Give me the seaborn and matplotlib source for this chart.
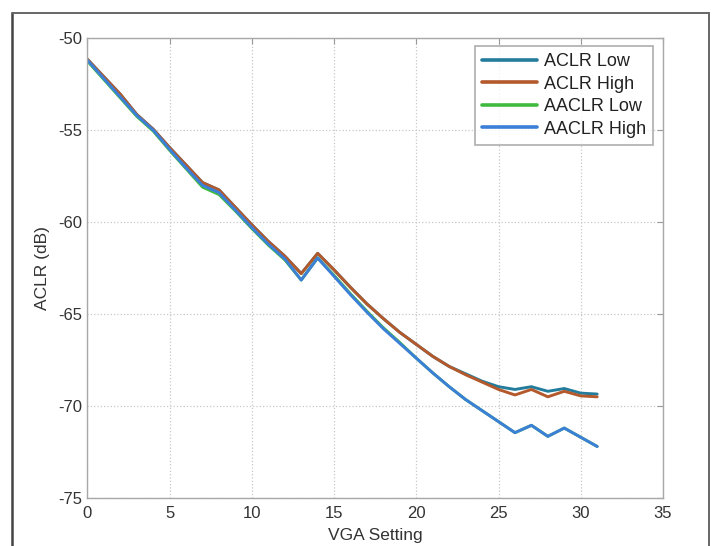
import numpy as np
import pandas as pd
import matplotlib
matplotlib.use("Agg")
import matplotlib.pyplot as plt
import seaborn as sns

sns.set_style("white")
plt.rcParams['font.family'] = ['Liberation Sans', 'DejaVu Sans']
plt.rcParams['axes.unicode_minus'] = False

# VGA setting sweep
vga = list(range(32))

aclr_low = [-51.15, -52.1, -53.05, -54.15, -54.95, -55.95, -56.9, -57.85, -58.25, -59.2,
            -60.15, -61.05, -61.85, -62.8, -61.7, -62.6, -63.55, -64.45, -65.25, -66.0,
            -66.65, -67.3, -67.85, -68.25, -68.65, -68.95, -69.1, -68.95, -69.2, -69.05,
            -69.3, -69.35]
aclr_high = [-51.15, -52.1, -53.05, -54.15, -54.95, -55.95, -56.9, -57.85, -58.25, -59.2,
             -60.15, -61.05, -61.85, -62.8, -61.7, -62.6, -63.55, -64.45, -65.25, -66.0,
             -66.65, -67.3, -67.85, -68.3, -68.7, -69.1, -69.4, -69.1, -69.5, -69.2,
             -69.45, -69.5]
aaclr_low = [-51.25, -52.25, -53.25, -54.25, -55.05, -56.1, -57.1, -58.1, -58.5, -59.4,
             -60.35, -61.25, -62.05, -63.15, -61.95, -62.9, -63.9, -64.85, -65.75, -66.55,
             -67.4, -68.2, -68.95, -69.65, -70.25, -70.85, -71.45, -71.05, -71.65, -71.2,
             -71.7, -72.2]
aaclr_high = [-51.2, -52.2, -53.2, -54.2, -55.0, -56.05, -57.05, -58.0, -58.4, -59.35,
              -60.3, -61.2, -62.0, -63.15, -61.95, -62.95, -63.95, -64.9, -65.8, -66.6,
              -67.4, -68.2, -68.95, -69.65, -70.25, -70.85, -71.45, -71.05, -71.65, -71.2,
              -71.7, -72.2]

series = ["ACLR Low", "ACLR High", "AACLR Low", "AACLR High"]
colors = ["#237c9c", "#b3592c", "#3fba3f", "#3c7fd8"]

df = pd.DataFrame({
    "VGA Setting": vga * 4,
    "ACLR (dB)": aclr_low + aclr_high + aaclr_low + aaclr_high,
    "Series": sum([[s] * len(vga) for s in series], []),
})

fig = plt.figure(figsize=(7.14, 5.46), dpi=100)
ax = fig.add_axes([0.1225, 0.088, 0.806, 0.842])

sns.lineplot(data=df, x="VGA Setting", y="ACLR (dB)", hue="Series",
             hue_order=series, palette=colors, linewidth=2.1, ax=ax)

ax.set_xlim(0, 35)
ax.set_ylim(-75, -50)
ax.set_xticks(range(0, 36, 5))
ax.set_yticks(range(-75, -49, 5))
ax.grid(True, linestyle=":", color="#c8c8c8", linewidth=0.9)
ax.tick_params(direction="in", length=4, color="#9a9a9a", labelsize=12,
               labelcolor="#333333", top=True, right=True)
ax.tick_params(axis="x", pad=6)
for s in ax.spines.values():
    s.set_color("#a8a8a8")
    s.set_linewidth(1.0)

ax.set_xlabel("VGA Setting", fontsize=12.5, color="#333333", labelpad=5)
ax.set_ylabel("ACLR (dB)", fontsize=12.5, color="#333333", labelpad=6)

leg = ax.legend(loc="upper right", bbox_to_anchor=(0.983, 0.983), borderaxespad=0,
                fancybox=False, fontsize=13, handlelength=3.0, labelspacing=0.3,
                handletextpad=0.4, borderpad=0.4)
leg.get_frame().set_edgecolor("#9a9a9a")
leg.get_frame().set_linewidth(1.2)
for t in leg.get_texts():
    t.set_color("#222222")
for h in leg.get_lines():
    h.set_linewidth(2.6)

# outer picture frame
fig.add_artist(plt.Line2D([0.0168, 0.0168], [0.0, 0.977], color="#444444", linewidth=1.8))
fig.add_artist(plt.Line2D([0.0168, 0.993], [0.977, 0.977], color="#666666", linewidth=1.4))
fig.add_artist(plt.Line2D([0.993, 0.993], [0.0, 0.977], color="#666666", linewidth=1.4))

fig.savefig("out.png", dpi=100)
